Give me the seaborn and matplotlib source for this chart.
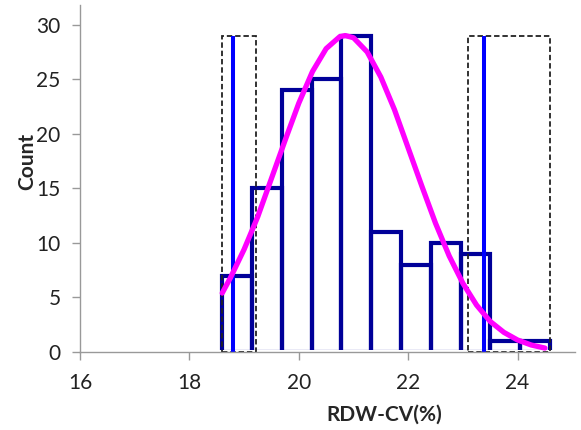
import numpy as np
import matplotlib
matplotlib.use("Agg")
import matplotlib.pyplot as plt
import seaborn as sns
from matplotlib.patches import Rectangle

# histogram bins (RDW-CV %) and counts
bin_edges = [18.6, 19.145, 19.69, 20.235, 20.78, 21.325, 21.87, 22.415, 22.96, 23.505, 24.05, 24.6]
counts = [7, 15, 24, 25, 29, 11, 8, 10, 9, 1, 1]

# fitted curve, points
curve_x = [18.6, 18.75, 19.0, 19.25, 19.5, 19.75, 20.0, 20.25, 20.5, 20.75, 20.85, 21.0,
           21.25, 21.5, 21.75, 22.0, 22.25, 22.5, 22.75, 23.0, 23.25, 23.5, 23.75, 24.0,
           24.25, 24.5]
curve_y = [5.4, 6.8, 9.4, 12.4, 15.9, 19.4, 22.8, 25.7, 27.8, 28.9, 29.0, 28.8,
           27.5, 25.2, 22.2, 18.7, 15.2, 11.8, 8.8, 6.3, 4.3, 2.8, 1.8, 1.1,
           0.64, 0.36]

# marker lines and dashed boxes
marker_x = [18.8, 23.39]
marker_top = 29
box_left = [18.6, 23.1]
box_right = [19.21, 24.59]
box_top = 29

centers = [(a + b) / 2 for a, b in zip(bin_edges[:-1], bin_edges[1:])]

sns.set_style("white")
plt.rcParams['font.family'] = ['Lato', 'DejaVu Sans']

fig = plt.figure(figsize=(5.81, 4.30), dpi=100)
ax = fig.add_axes([80 / 581, 78 / 430, 495 / 581, 347 / 430])

sns.histplot(x=centers, weights=counts, bins=bin_edges, fill=False, element="bars",
             color="#000099", linewidth=3.0, ax=ax, zorder=2)

# hide the bottom edge of each bar (reference shows only sides and top)
clip = Rectangle((15, 0.2), 20, 50, transform=ax.transData)
for p in ax.patches:
    p.set_clip_path(clip)

for l, r in zip(box_left, box_right):
    ax.add_patch(Rectangle((l, 0), r - l, box_top, fill=False, edgecolor="#222222",
                           linestyle=(0, (3, 1.6)), linewidth=1.3, zorder=3))

ax.vlines(marker_x, 0, marker_top, colors="#0000FF", linewidth=2.9, zorder=4)

sns.lineplot(x=curve_x, y=curve_y, color="#FF00FF", linewidth=3.8, ax=ax, zorder=5)

ax.set_xlim(16, 25.05)
ax.set_ylim(0, 31.8)
ax.set_xticks([16, 18, 20, 22, 24])
ax.set_yticks([0, 5, 10, 15, 20, 25, 30])

for s in ["top", "right"]:
    ax.spines[s].set_visible(False)
for s in ["left", "bottom"]:
    ax.spines[s].set_color("#999999")
    ax.spines[s].set_linewidth(1.0)
    ax.spines[s].set_zorder(6)

ax.tick_params(axis="both", direction="out", length=6, width=1, color="#999999",
               labelsize=15, labelcolor="#222222", bottom=True, left=True)
ax.tick_params(axis="x", pad=9)
ax.tick_params(axis="y", pad=8)

ax.set_xlabel("RDW-CV(%)", fontsize=15, fontweight="bold")
ax.set_ylabel("Count", fontsize=15, fontweight="bold")
ax.xaxis.set_label_coords(0.614, -0.152)
ax.yaxis.set_label_coords(-0.086, 0.548)

fig.savefig("out.png", dpi=100)
